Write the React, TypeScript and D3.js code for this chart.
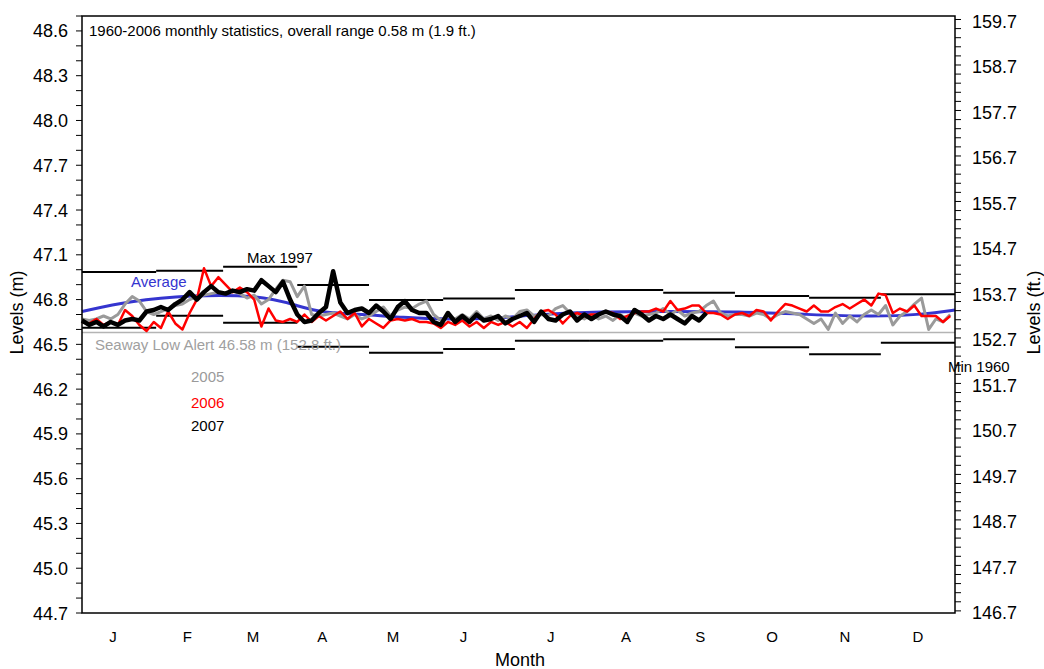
import { useEffect, useRef } from "react";
import * as d3 from "d3";

// months / statistics
const months = ["J", "F", "M", "A", "M", "J", "J", "A", "S", "O", "N", "D"];
const monthLabelDays = [13, 44, 71.5, 100.5, 130, 159.5, 196, 227.5, 258.5, 288.5, 319, 349.5];
const monthStarts = [0, 31, 59, 90, 120, 151, 181, 212, 243, 273, 304, 334, 365];
const monthlyMax = [46.985, 46.993, 47.02, 46.898, 46.797, 46.808, 46.864, 46.864, 46.846, 46.824, 46.813, 46.835];
const monthlyMin = [46.611, 46.692, 46.645, 46.484, 46.444, 46.469, 46.524, 46.524, 46.534, 46.48, 46.433, 46.511];

const avgDays = [0, 20, 45, 74, 90, 100, 120, 133, 154, 175, 190, 217, 245, 275, 303, 331, 352, 365];
const avgValues = [46.72, 46.79, 46.83, 46.83, 46.76, 46.71, 46.7, 46.68, 46.665, 46.675, 46.7, 46.72, 46.72, 46.72, 46.7, 46.685, 46.7, 46.73];

const SEAWAY_LOW = 46.58;
const STEP = 3; // days between samples

const levels2005 = [
  46.67, 46.66, 46.67, 46.69, 46.67, 46.7, 46.77, 46.82, 46.79, 46.72,
  46.7, 46.72, 46.74, 46.76, 46.77, 46.8, 46.82, 46.83, 46.84, 46.85,
  46.84, 46.86, 46.84, 46.81, 46.83, 46.77, 46.8, 46.87, 46.93, 46.92, 46.82,
  46.89, 46.7, 46.69, 46.7, 46.71, 46.69, 46.67, 46.7, 46.67, 46.69,
  46.72, 46.75, 46.69, 46.73, 46.75, 46.74, 46.77, 46.79, 46.7, 46.66,
  46.69, 46.67, 46.7, 46.67, 46.72, 46.67, 46.69, 46.66, 46.69, 46.67, 46.72,
  46.73, 46.69, 46.7, 46.69, 46.74, 46.76, 46.71, 46.69, 46.67, 46.7,
  46.67, 46.69, 46.66, 46.7, 46.67, 46.71, 46.69, 46.7, 46.71, 46.74,
  46.7, 46.73, 46.69, 46.71, 46.72, 46.76, 46.79, 46.71, 46.69, 46.7,
  46.7, 46.69, 46.71, 46.7, 46.67, 46.7, 46.72, 46.71, 46.7, 46.67,
  46.64, 46.67, 46.6, 46.71, 46.64, 46.69, 46.65, 46.7, 46.73, 46.7,
  46.76, 46.63, 46.69, 46.72, 46.77, 46.81, 46.6, 46.67, 46.65, 46.7,
];

const levels2006 = [
  46.65, 46.64, 46.67, 46.63, 46.65, 46.63, 46.73, 46.69, 46.63, 46.59,
  46.65, 46.61, 46.72, 46.64, 46.6, 46.71, 46.8, 47.01, 46.89, 46.95,
  46.9, 46.85, 46.88, 46.85, 46.8, 46.62, 46.74, 46.66, 46.65, 46.67, 46.65,
  46.7, 46.65, 46.69, 46.66, 46.69, 46.72, 46.67, 46.71, 46.62, 46.67,
  46.64, 46.61, 46.66, 46.67, 46.66, 46.67, 46.65, 46.65, 46.64, 46.61,
  46.65, 46.63, 46.66, 46.62, 46.65, 46.61, 46.65, 46.63, 46.65, 46.62, 46.65,
  46.61, 46.67, 46.72, 46.73, 46.7, 46.64, 46.69, 46.71, 46.69, 46.7,
  46.7, 46.72, 46.71, 46.67, 46.69, 46.71, 46.72, 46.72, 46.74, 46.72,
  46.79, 46.73, 46.74, 46.76, 46.76, 46.71, 46.71, 46.7, 46.67, 46.7,
  46.71, 46.69, 46.73, 46.72, 46.66, 46.72, 46.77, 46.76, 46.74, 46.72,
  46.76, 46.72, 46.72, 46.75, 46.77, 46.74, 46.77, 46.8, 46.76, 46.84,
  46.83, 46.71, 46.74, 46.72, 46.76, 46.69, 46.69, 46.69, 46.65, 46.69,
];

const levels2007 = [
  46.66, 46.63, 46.65, 46.62, 46.65, 46.63, 46.66, 46.67, 46.66, 46.72,
  46.73, 46.75, 46.73, 46.77, 46.8, 46.85, 46.8, 46.85, 46.89, 46.85,
  46.84, 46.86, 46.85, 46.87, 46.86, 46.93, 46.89, 46.85, 46.92, 46.8,
  46.7, 46.65, 46.66, 46.71, 46.75, 46.99, 46.78, 46.71, 46.73, 46.74,
  46.71, 46.76, 46.72, 46.67, 46.75, 46.79, 46.73, 46.71, 46.71, 46.65,
  46.63, 46.71, 46.65, 46.69, 46.65, 46.7, 46.66, 46.67, 46.69, 46.64,
  46.67, 46.69, 46.71, 46.65, 46.72, 46.67, 46.66, 46.7, 46.72, 46.66,
  46.7, 46.67, 46.7, 46.72, 46.7, 46.69, 46.65, 46.73, 46.7, 46.66,
  46.69, 46.67, 46.7, 46.67, 46.64, 46.69, 46.66, 46.71,
];

const FONT = "'Liberation Sans', Arial, sans-serif";

export default function App() {
  const svgRef = useRef<SVGSVGElement | null>(null);

  useEffect(() => {
    if (!svgRef.current) return;
    const W = 1044;
    const H = 669;
    const left = 82;
    const right = 955;
    const top = 16;
    const bottom = 613;

    const root = d3.select(svgRef.current);
    root.selectAll("*").remove();
    root.attr("width", W).attr("height", H);

    const x = d3.scaleLinear().domain([0, 365]).range([left, right]);
    const y = d3.scaleLinear().domain([44.7, 48.7]).range([bottom, top]);
    const yFt = d3
      .scaleLinear()
      .domain([44.7 / 0.3048, 48.7 / 0.3048])
      .range([bottom, top]);

    const svg = root.append("g").attr("font-family", FONT);

    // monthly max / min
    svg
      .selectAll("line.max")
      .data(monthlyMax)
      .enter()
      .append("line")
      .attr("x1", (_, i) => x(monthStarts[i]))
      .attr("x2", (_, i) => x(monthStarts[i + 1]))
      .attr("y1", (d) => y(d))
      .attr("y2", (d) => y(d))
      .attr("stroke", "#000")
      .attr("stroke-width", 2);

    svg
      .selectAll("line.min")
      .data(monthlyMin)
      .enter()
      .append("line")
      .attr("x1", (_, i) => x(monthStarts[i]))
      .attr("x2", (_, i) => x(monthStarts[i + 1]))
      .attr("y1", (d) => y(d))
      .attr("y2", (d) => y(d))
      .attr("stroke", "#000")
      .attr("stroke-width", 2);

    // seaway low alert
    svg
      .append("line")
      .attr("x1", left)
      .attr("x2", right)
      .attr("y1", y(SEAWAY_LOW))
      .attr("y2", y(SEAWAY_LOW))
      .attr("stroke", "#b4b4b4")
      .attr("stroke-width", 1.5);

    // average
    const avgLine = d3
      .line<number>()
      .x((_, i) => x(avgDays[i]))
      .y((d) => y(d))
      .curve(d3.curveBasis);
    svg
      .append("path")
      .datum(avgValues)
      .attr("fill", "none")
      .attr("stroke", "#3535cf")
      .attr("stroke-width", 3)
      .attr("d", avgLine);

    const yearLine = d3
      .line<number>()
      .x((_, i) => x(i * STEP))
      .y((d) => y(d));

    const series: [number[], string, number][] = [
      [levels2005, "#9a9a9a", 3],
      [levels2006, "#ff0000", 2.5],
      [levels2007, "#000000", 4.5],
    ];
    series.forEach(([vals, color, w]) => {
      svg
        .append("path")
        .datum(vals)
        .attr("fill", "none")
        .attr("stroke", color)
        .attr("stroke-width", w)
        .attr("stroke-linejoin", "round")
        .attr("d", yearLine);
    });

    // frame
    svg
      .append("rect")
      .attr("x", left)
      .attr("y", top)
      .attr("width", right - left)
      .attr("height", bottom - top)
      .attr("fill", "none")
      .attr("stroke", "#000")
      .attr("stroke-width", 1.5);

    // left axis
    const leftMajor = d3.range(0, 14).map((i) => 44.7 + 0.3 * i);
    const leftMinor = d3.range(0, 41).map((i) => 44.7 + 0.1 * i);
    svg
      .selectAll("line.lminor")
      .data(leftMinor)
      .enter()
      .append("line")
      .attr("x1", left - 6)
      .attr("x2", left)
      .attr("y1", (d) => y(d))
      .attr("y2", (d) => y(d))
      .attr("stroke", "#000")
      .attr("stroke-width", 1);
    svg
      .selectAll("text.lmajor")
      .data(leftMajor)
      .enter()
      .append("text")
      .attr("x", left - 14)
      .attr("y", (d) => y(d) + 6.5)
      .attr("text-anchor", "end")
      .attr("font-size", 18)
      .text((d) => d.toFixed(1));

    // right axis (feet)
    const rightMajor = d3.range(0, 14).map((i) => 146.7 + i);
    const rightMinor = d3.range(0, 66).map((i) => 146.7 + 0.2 * i);
    svg
      .selectAll("line.rminor")
      .data(rightMinor)
      .enter()
      .append("line")
      .attr("x1", right)
      .attr("x2", right + 6)
      .attr("y1", (d) => yFt(d))
      .attr("y2", (d) => yFt(d))
      .attr("stroke", "#000")
      .attr("stroke-width", 1);
    svg
      .selectAll("text.rmajor")
      .data(rightMajor)
      .enter()
      .append("text")
      .attr("x", right + 17)
      .attr("y", (d) => yFt(d) + 8.5)
      .attr("font-size", 18)
      .text((d) => d.toFixed(1));

    // month labels
    svg
      .selectAll("text.month")
      .data(months)
      .enter()
      .append("text")
      .attr("x", (_, i) => x(monthLabelDays[i]))
      .attr("y", 642)
      .attr("text-anchor", "middle")
      .attr("font-size", 15)
      .text((d) => d);

    svg
      .append("text")
      .attr("x", 520)
      .attr("y", 666)
      .attr("text-anchor", "middle")
      .attr("font-size", 18)
      .text("Month");

    svg
      .append("text")
      .attr("transform", `translate(23,${(top + bottom) / 2 - 2}) rotate(-90)`)
      .attr("text-anchor", "middle")
      .attr("font-size", 18)
      .text("Levels (m)");

    svg
      .append("text")
      .attr("transform", `translate(1040,${(top + bottom) / 2 - 2}) rotate(-90)`)
      .attr("text-anchor", "middle")
      .attr("font-size", 18)
      .text("Levels (ft.)");

    // annotations
    const note = (tx: number, ty: number, s: string, fill: string) =>
      svg
        .append("text")
        .attr("x", tx)
        .attr("y", ty)
        .attr("font-size", 15)
        .attr("fill", fill)
        .text(s);

    note(89, 36, "1960-2006 monthly statistics, overall range 0.58 m (1.9 ft.)", "#000");
    note(131, 287, "Average", "#3535cf");
    note(247, 263, "Max 1997", "#000");
    note(95, 350, "Seaway Low Alert 46.58 m (152.8 ft.)", "#a0a0a0");
    note(948, 372, "Min 1960", "#000");
    note(191, 382, "2005", "#9a9a9a");
    note(191, 408, "2006", "#ff0000");
    note(191, 431, "2007", "#000");
  }, []);

  return (
    <svg
      ref={svgRef}
      style={{ position: "absolute", left: 0, top: 0, background: "#fff" }}
    />
  );
}
